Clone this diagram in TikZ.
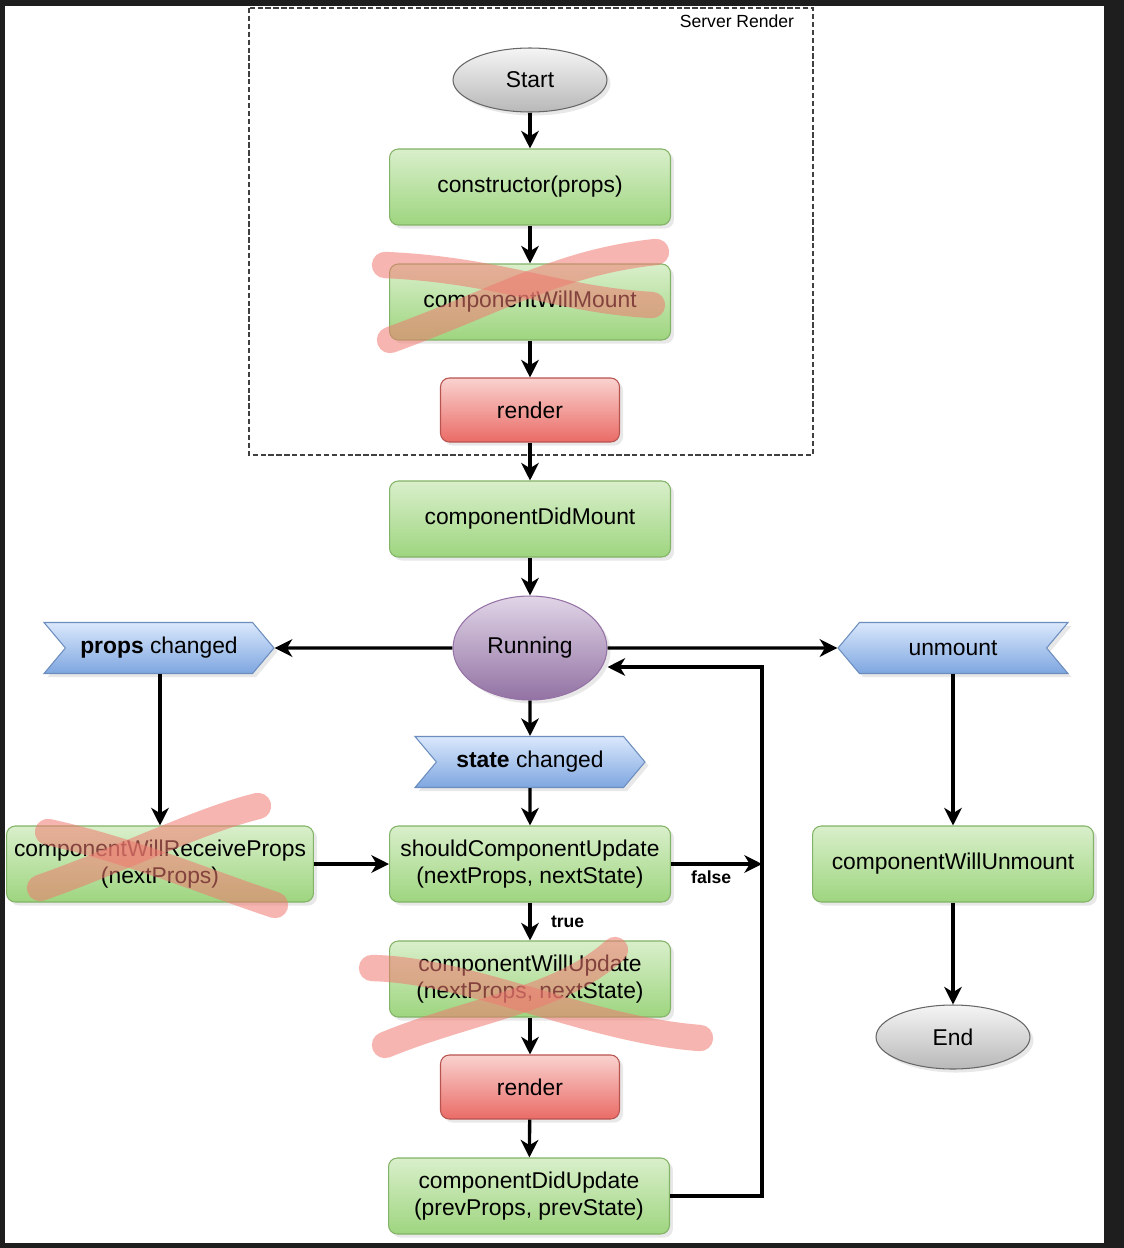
\documentclass[tikz,border=0pt]{standalone}
\usepackage{fontspec}
\setmainfont{Liberation Sans}
\usetikzlibrary{shapes.geometric, shapes.symbols, shadows, arrows.meta}

\definecolor{framebg}{HTML}{1E1E1E}
\definecolor{greentop}{HTML}{D9EFCB}
\definecolor{greenbot}{HTML}{9ED57F}
\definecolor{greenline}{HTML}{82B366}
\definecolor{redtop}{HTML}{F9D2CF}
\definecolor{redbot}{HTML}{EA6B66}
\definecolor{redline}{HTML}{B85450}
\definecolor{bluetop}{HTML}{DAE8FC}
\definecolor{bluebot}{HTML}{7EA6E0}
\definecolor{blueline}{HTML}{6C8EBF}
\definecolor{graytop}{HTML}{F5F5F5}
\definecolor{graybot}{HTML}{B8B8B8}
\definecolor{grayline}{HTML}{666666}
\definecolor{purptop}{HTML}{E1D5E7}
\definecolor{purpbot}{HTML}{9272A3}
\definecolor{purpline}{HTML}{9673A6}
\definecolor{scribble}{HTML}{F07A70}

\tikzset{
    base/.style={font=\fontsize{13}{15.5}\selectfont, align=center, inner sep=2pt, line width=0.6pt,
        drop shadow={shadow xshift=2pt, shadow yshift=-2pt, opacity=0.18}},
    method/.style={base, rectangle, rounded corners=5pt, draw=greenline,
        top color=greentop, bottom color=greenbot, minimum width=5.62cm, minimum height=1.52cm},
    rendernode/.style={base, rectangle, rounded corners=5pt, draw=redline,
        top color=redtop, bottom color=redbot, minimum width=3.58cm, minimum height=1.28cm},
    startend/.style={base, ellipse, draw=grayline, top color=graytop, bottom color=graybot,
        minimum width=3.08cm, minimum height=1.28cm},
    running/.style={base, ellipse, draw=purpline, top color=purptop, bottom color=purpbot,
        minimum width=3.08cm, minimum height=2.08cm},
    event/.style={base, signal, draw=blueline, top color=bluetop, bottom color=bluebot,
        signal pointer angle=100, minimum width=4.6cm, minimum height=1.02cm},
    flow/.style={line width=1.9pt, -{Stealth[length=10pt, width=10pt, inset=3pt]}},
    flowlabel/.style={font=\bfseries\fontsize{10}{12}\selectfont, inner sep=3pt},
    serverbox/.style={draw=black!75, line width=0.6pt, dash pattern=on 3pt off 1.5pt},
    cross/.style={draw=scribble, opacity=0.55, line width=15pt, line cap=round},
}

\begin{document}
\begin{tikzpicture}[x=0.02cm, y=-0.02cm]
    \useasboundingbox (0,0) rectangle (1124,1248);
    \fill[framebg] (0,0) rectangle (1124,1248);
    \fill[white] (5,6) rectangle (1104,1243);

    % server render area
    \draw[serverbox] (249,8) rectangle (813,455);
    \node[font=\fontsize{10}{12}\selectfont] (srv) at (737,21) {Server Render};

    % mounting
    \node[startend] (start) at (530,80) {Start};
    \node[method] (ctor) at (530,187) {constructor(props)};
    \node[method] (cwm) at (530,302) {componentWillMount};
    \node[rendernode] (render1) at (530,410) {render};
    \node[method] (cdm) at (530,519) {componentDidMount};
    \node[running] (run) at (530,648) {Running};

    % events
    \node[event, signal from=west, signal to=east] (props) at (159,648) {\textbf{props} changed};
    \node[event, signal from=east, signal to=west] (unmount) at (953,648) {unmount};
    \node[event, signal from=west, signal to=east] (state) at (530,762) {\textbf{state} changed};

    % updating
    \node[method, minimum width=6.14cm] (cwrp) at (160,864) {componentWillReceiveProps\\(nextProps)};
    \node[method] (scu) at (530,864) {shouldComponentUpdate\\(nextProps, nextState)};
    \node[method] (cwu) at (530,979) {componentWillUpdate\\(nextProps, nextState)};
    \node[rendernode] (render2) at (530,1087) {render};
    \node[method] (cdu) at (529,1196) {componentDidUpdate\\(prevProps, prevState)};

    % unmounting
    \node[method] (cwun) at (953,864) {componentWillUnmount};
    \node[startend] (end) at (953,1037) {End};

    \coordinate (loop) at (762,667);

    \draw[flow] (start) -- (ctor);
    \draw[flow] (ctor) -- (cwm);
    \draw[flow] (cwm) -- (render1);
    \draw[flow] (render1) -- (cdm);
    \draw[flow] (cdm) -- (run);
    \draw[flow] (run) -- (props);
    \draw[flow] (run) -- (unmount);
    \draw[flow] (run) -- (state);
    \draw[flow] (state) -- (scu);
    \draw[flow] (props.south -| cwrp.north) -- (cwrp.north);
    \draw[flow] (cwrp) -- (scu);
    \draw[flow] (scu) -- (cwu) node[flowlabel, right=8pt, midway] {true};
    \draw[flow] (scu.east) -- (scu.east -| loop) node[flowlabel, below, midway, xshift=-3pt] {false};
    \draw[flow] (cwu) -- (render2);
    \draw[flow] (render2) -- (cdu);
    \draw[flow] (cdu.east) -| (loop) -- (loop -| run.east);
    \draw[flow] (unmount.south -| cwun.north) -- (cwun.north);
    \draw[flow] (cwun) -- (end);

    % crossed out methods
    \draw[cross] (385,265) .. controls (500,270) and (560,300) .. (652,305);
    \draw[cross] (390,340) .. controls (500,300) and (560,262) .. (656,252);
    \draw[cross] (48,832) .. controls (130,850) and (200,880) .. (275,905);
    \draw[cross] (40,888) .. controls (120,860) and (200,820) .. (258,806);
    \draw[cross] (372,968) .. controls (470,970) and (590,1030) .. (700,1038);
    \draw[cross] (385,1045) .. controls (470,1010) and (560,1000) .. (615,950);
\end{tikzpicture}
\end{document}
